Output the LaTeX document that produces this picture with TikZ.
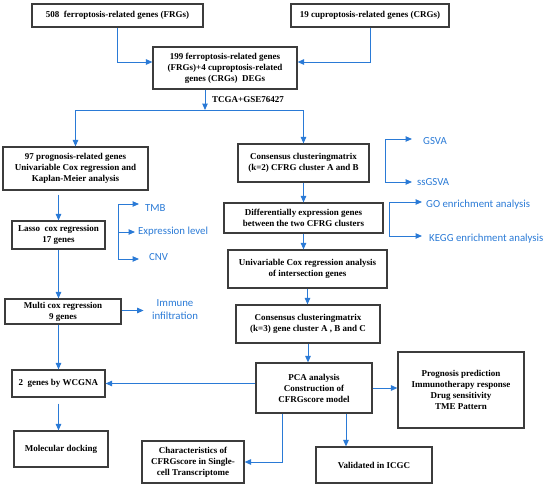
\documentclass[tikz,border=0pt]{standalone}
\usepackage{fontspec}
\setmainfont{Liberation Serif}
\newfontfamily\bluefont{Carlito}
\usetikzlibrary{arrows.meta}
\definecolor{flowblue}{RGB}{42,122,214}
\definecolor{boxgray}{RGB}{60,60,60}
\tikzset{
  box/.style={draw=boxgray, line width=1.2pt, rectangle, inner sep=0pt, align=center,
    font=\fontsize{9}{11}\selectfont\bfseries},
  arr/.style={draw=flowblue, line width=1pt, -{Triangle[length=6.5pt,width=5.5pt]}},
  ln/.style={draw=flowblue, line width=1pt},
  btxt/.style={text=flowblue, inner sep=0pt, font=\bluefont\fontsize{10.8}{12.5}\selectfont, align=center},
  lbl/.style={inner sep=0pt, font=\fontsize{9}{11}\selectfont\bfseries}
}
\begin{document}
\begin{tikzpicture}[x=1pt,y=-1pt]
\useasboundingbox (0,0) rectangle (550,488);
% boxes
\node[box, minimum width=171pt, minimum height=23pt] (b1) at (117.5,15.5) {508\ \ ferroptosis-related genes (FRGs)};
\node[box, minimum width=158pt, minimum height=23pt] (b2) at (370,15.5) {19 cuproptosis-related genes (CRGs)};
\node[box, minimum width=144pt, minimum height=42pt] (b3) at (225,68) {199 ferroptosis-related genes\\(FRGs)+4 cuproptosis-related\\genes (CRGs)\ \ DEGs};
\node[box, minimum width=145pt, minimum height=43pt] (b4) at (75.5,168.5) {97 prognosis-related genes\\Univariable Cox regression and\\Kaplan-Meier analysis};
\node[box, minimum width=93pt, minimum height=28pt] (b5) at (58.5,235) {Lasso\ \ cox regression\\17 genes};
\node[box, minimum width=116pt, minimum height=25pt] (b6) at (63,311.5) {Multi cox regression\\9 genes};
\node[box, minimum width=93pt, minimum height=27pt] (b7) at (58.5,383.5) {2\ \ genes by WCGNA};
\node[box, minimum width=94pt, minimum height=36pt] (b8) at (61,449) {Molecular docking};
\node[box, minimum width=102pt, minimum height=42pt] (b9) at (193,462) {Characteristics of\\CFRGscore in Single-\\cell Transcriptome};
\node[box, minimum width=131pt, minimum height=38pt] (c1) at (303.5,163) {Consensus clusteringmatrix\\(k=2) CFRG cluster A and B};
\node[box, minimum width=159pt, minimum height=30pt] (c2) at (303.5,218) {Differentially expression genes\\between the two CFRG clusters};
\node[box, minimum width=159pt, minimum height=38pt] (c3) at (307.5,269) {Univariable Cox regression analysis\\of intersection genes};
\node[box, minimum width=144pt, minimum height=38pt] (c4) at (308,324) {Consensus clusteringmatrix\\(k=3) gene cluster A , B and C};
\node[box, minimum width=116pt, minimum height=50pt] (c5) at (314,388) {PCA analysis\\Construction of\\CFRGscore model};
\node[box, minimum width=126pt, minimum height=76pt] (c6) at (461,390) {Prognosis prediction\\Immunotherapy response\\Drug sensitivity\\TME Pattern};
\node[box, minimum width=116pt, minimum height=36pt] (c7) at (374,465) {Validated in ICGC};
% label
\node[lbl, anchor=west] (tcga) at (212,100) {TCGA+GSE76427};
% blue texts
\node[btxt, anchor=west] (tmb) at (145,208) {TMB};
\node[btxt, anchor=west] (expr) at (138,232) {Expression level};
\node[btxt, anchor=west] (cnv) at (149,257) {CNV};
\node[btxt] (imm) at (175,309.5) {Immune\\infiltration};
\node[btxt, anchor=west] (gsva) at (423,141) {GSVA};
\node[btxt, anchor=west] (ssgsva) at (417,182) {ssGSVA};
\node[btxt, anchor=west] (go) at (426,205) {GO enrichment analysis};
\node[btxt, anchor=west] (kegg) at (429,239) {KEGG enrichment analysis};
% coordinates
\coordinate (sp) at (205,110);
\coordinate (t1) at (118,204); \coordinate (t2) at (118,232); \coordinate (t3) at (118,259);
\coordinate (g1) at (385,139); \coordinate (g2) at (385,182);
\coordinate (k1) at (389,202); \coordinate (k2) at (389,236);
% connectors
\draw[arr] (b1.south) |- ([yshift=6pt]b3.west);
\draw[arr] (b2.south) |- ([yshift=6pt]b3.east);
\draw[arr] ([xshift=-20pt]b3.south) -- (sp);
\draw[arr] (sp) -| (b4.north);
\draw[arr] (sp) -| (c1.north);
\draw[arr, shorten <=4pt] (b5.north |- b4.south) -- (b5.north);
\draw[arr] (b5.south) -- (b5.south |- b6.north);
\draw[arr] (b7.north |- b6.south) -- (b7.north);
\draw[arr, shorten <=6pt] (b7.south) -- (b7.south |- b8.north);
\draw[arr] (c5.west |- b7.east) -- (b7.east);
\draw[arr] ([xshift=-32pt]c5.south) |- (b9.east);
\draw[arr] ([xshift=32pt]c5.south) -- ([xshift=32pt]c5.south |- c7.north);
\draw[arr] (c5.east) -- (c5.east -| c6.west);
\draw[arr] (c1.south) -- (c2.north);
\draw[arr] (c2.south) -- (c2.south |- c3.north);
\draw[arr] (c3.south) -- (c3.south |- c4.north);
\draw[arr] (c4.south) -- (c4.south |- c5.north);
\draw[arr] ([yshift=1pt]b6.east) -- ++(22,0);
% brackets
\draw[ln] (t1) -- (t3);
\draw[arr] (t1) -- ++(21,0);
\draw[arr] (t2) -- ++(17,0);
\draw[arr] (t3) -- ++(21,0);
\draw[ln] (g1) -- (g2);
\draw[arr] (g1) -- ++(27,0);
\draw[arr] (g2) -- ++(27,0);
\draw[ln] (k1) -- (k2);
\draw[arr] (k1) -- ++(33,0);
\draw[arr] (k2) -- ++(33,0);
\end{tikzpicture}
\end{document}
